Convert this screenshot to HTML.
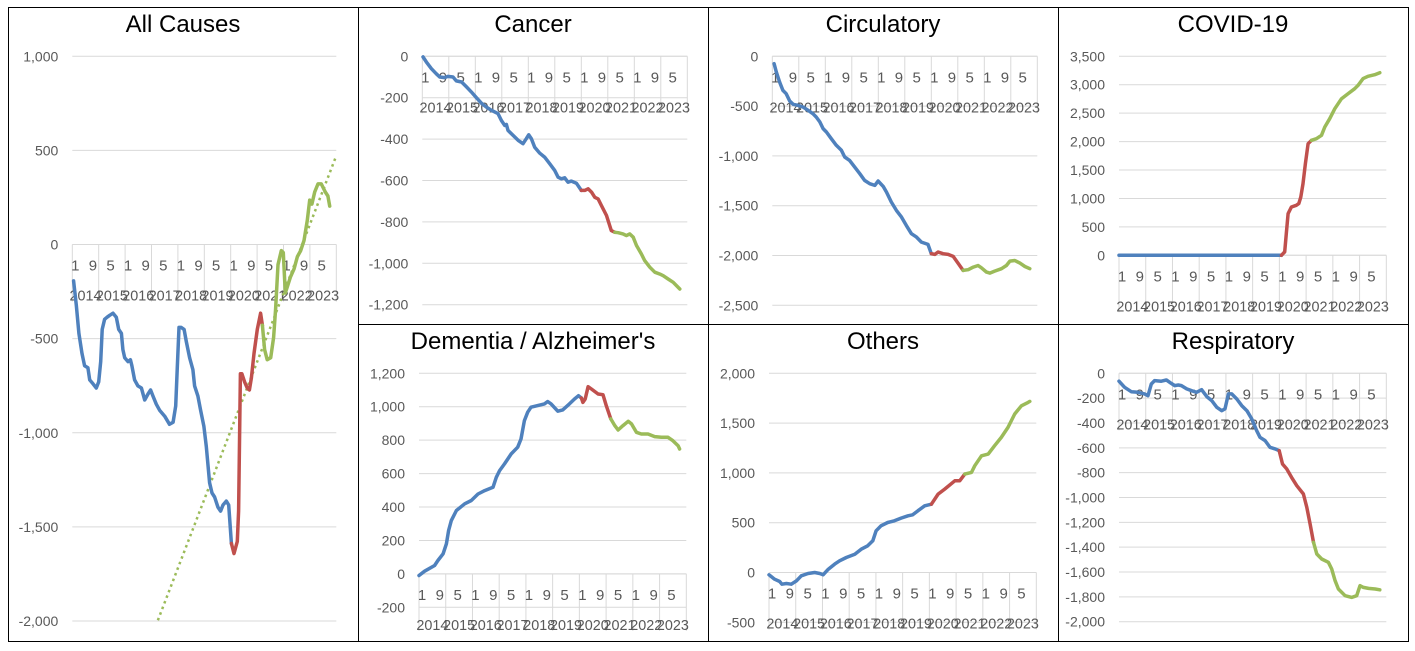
<!DOCTYPE html>
<html><head><meta charset="utf-8">
<style>
html,body{margin:0;padding:0;background:#fff;}
svg{display:block;font-family:"Liberation Sans",Arial,sans-serif;}
</style></head>
<body>
<svg id="chart" width="1415" height="651" viewBox="0 0 1415 651"></svg>
<script>
// ===== DATA =====
const monthTickLabels = ["1","9","5","1","9","5","1","9","5","1","9","5","1","9","5"];
const yearLabels = ["2014","2015","2016","2017","2018","2019","2020","2021","2022","2023"];
const phaseBreaks = [72.5, 86.8];

const allCausesMonths = [0.6,1.8,3.0,4.4,5.6,7.1,7.9,9.4,10.9,12.0,12.9,13.6,14.7,15.8,17.0,18.5,20.0,21.1,22.3,23.0,23.8,25.3,26.4,27.1,28.3,29.8,31.4,32.9,34.4,35.6,36.7,38.2,39.7,42.0,44.2,45.8,47.0,47.7,48.5,49.5,50.8,51.8,53.3,54.8,55.6,57.1,58.3,59.8,60.9,62.4,63.5,64.7,66.2,67.4,68.5,70.0,71.1,72.3,73.5,75.0,75.6,76.4,77.1,78.3,79.5,80.5,81.4,82.6,84.1,85.6,86.4,87.4,88.6,90.2,91.5,92.4,93.5,95.0,95.9,96.8,98.0,99.2,100.8,102.3,103.8,105.3,106.8,107.9,108.9,110.2,111.7,113.2,115.0,116.2,117.0];
const allCausesValues = [-193,-322,-472,-579,-644,-655,-719,-740,-762,-730,-622,-451,-397,-386,-376,-365,-386,-451,-472,-558,-601,-622,-612,-644,-719,-751,-762,-826,-794,-773,-805,-848,-880,-912,-955,-944,-858,-665,-440,-440,-451,-515,-601,-665,-751,-805,-880,-966,-1073,-1266,-1320,-1341,-1395,-1416,-1384,-1363,-1384,-1588,-1642,-1577,-1416,-687,-687,-730,-762,-773,-708,-579,-451,-365,-429,-558,-612,-601,-494,-343,-107,-32,-43,-258,-215,-172,-129,-64,-32,21,129,236,215,279,322,322,279,258,204];
const allCausesTrendMonths = [38.9, 120];
const allCausesTrendValues = [-1996, 472];

const cancerMonths = [0.3,1.8,4.1,6.3,7.9,10.1,11.6,13.9,15.4,17.8,20,22.2,24.5,26.7,29,31.3,34.3,35.8,37.3,38.1,38.8,41.1,43.4,45.6,47.1,48.2,49.4,50.9,53.2,55.4,57.7,60,61.5,63,64.5,66,67.5,69.8,72,73.6,75.1,76.6,78.1,79.6,81.1,83.4,85.6,87.2,88.7,90.9,92.4,93.9,95.5,97,99.2,100.7,103,105.3,107.6,109.1,111.3,113.6,116.6];
const cancerValues = [-3,-27,-60,-84,-100,-103,-97,-100,-119,-124,-148,-172,-200,-226,-245,-261,-277,-310,-334,-329,-358,-382,-406,-422,-398,-379,-398,-439,-468,-487,-519,-552,-584,-592,-587,-608,-603,-613,-648,-648,-640,-656,-681,-689,-721,-769,-842,-850,-852,-858,-866,-858,-874,-914,-955,-987,-1019,-1043,-1052,-1060,-1076,-1092,-1124];

const circMonths = [0.8,1.8,3.3,4.8,6.3,7.9,9.4,11.6,13.9,16.2,18.4,19.9,21.5,23,24.5,26.7,29,31.3,32.8,35,37.3,39.6,41.8,44.1,46.4,47.9,50.2,51.7,53.9,56.2,58.5,60.7,63,65.3,67.5,70.5,72,73.6,75.1,77.3,79.6,81.9,84.1,86.4,88.7,91,93.2,94.7,97,98.5,100.7,103.8,106,107.6,109.8,112.1,114.4,116.6];
const circValues = [-74,-157,-258,-342,-375,-449,-482,-492,-509,-542,-576,-609,-659,-726,-760,-827,-894,-944,-1011,-1045,-1112,-1179,-1246,-1279,-1296,-1252,-1306,-1363,-1463,-1547,-1614,-1698,-1781,-1815,-1865,-1889,-1982,-1989,-1965,-1982,-1989,-2009,-2076,-2150,-2143,-2116,-2100,-2123,-2167,-2177,-2157,-2133,-2100,-2056,-2050,-2076,-2110,-2133];

const covidMonths = [0,72.9,74.4,75.1,75.9,77.4,79.6,80.7,81.6,82.6,83.7,84.9,86.4,88.6,90.9,92.4,94.6,96.9,99.9,102.8,105.8,107.3,109.6,111.8,114.8,117.1];
const covidValues = [0,0,59,381,733,850,879,909,1026,1260,1612,1963,2022,2051,2110,2257,2403,2579,2755,2843,2931,2989,3107,3148,3177,3212];

const dementiaMonths = [0,2.5,7,8.5,10.8,12.3,13.3,14.5,16.8,20.5,23.5,26.5,29.5,33.2,34.7,36.2,38.4,41.4,44.3,45.8,47.3,48.8,50.3,53.3,56.3,57.8,59.3,62.3,64.5,67.5,69.8,71.6,72.9,73.6,74.6,75.9,77.4,80.4,82.6,84.1,86.1,87.9,89.4,91.6,93.9,95.4,97.6,99.8,102.8,105.8,108.8,111.8,114,116.3,117];
const dementiaValues = [-10,16,50,80,120,180,259,319,379,419,439,478,498,518,578,618,658,718,758,807,917,967,997,1007,1017,1031,1017,973,981,1017,1046,1066,1052,1026,1046,1120,1106,1076,1072,1006,927,887,861,887,913,897,847,837,837,821,817,817,797,767,747];

const othersMonths = [0,2.5,4.8,5.8,7.8,10,12.3,14.5,17.5,20.5,22.8,24.3,26.6,29.5,31.7,34.7,38.5,41.4,44.3,46.6,48.1,50.3,53.3,56.3,59.3,62.4,64.5,66.9,69.9,72.9,75.9,78.9,83.4,85.6,87.9,90.9,92.4,95.4,98.4,101.3,104.3,107.3,110.3,113.3,116.3,117.1];
const othersValues = [-23,-67,-90,-117,-110,-117,-84,-33,-10,0,-10,-23,33,84,117,151,184,234,268,318,419,469,502,519,546,569,579,620,670,686,787,837,921,921,988,1005,1072,1172,1189,1273,1356,1457,1591,1674,1708,1718];

const respMonths = [0,2.5,5.5,8.5,11.5,13,14.5,16,19,21.3,23.5,25,26.6,28,30.4,32.6,34.8,37.1,39.4,41.6,43.9,46.1,47.6,49.1,50.6,52.9,55.1,57.4,59.6,61.8,63.3,65.6,67.8,70.1,71.9,73.4,75.3,77.5,79.8,82.8,84.3,85.8,87.3,88.8,91,94,95.5,97,98.5,101.5,104.5,106.7,108.2,109.7,112,115,117.1];
const respValues = [-64,-113,-148,-153,-166,-180,-86,-59,-64,-54,-81,-99,-94,-99,-126,-140,-153,-132,-188,-220,-274,-301,-287,-166,-166,-207,-260,-301,-368,-462,-515,-542,-596,-609,-623,-730,-770,-838,-905,-972,-1079,-1213,-1361,-1455,-1495,-1522,-1576,-1670,-1737,-1791,-1804,-1791,-1710,-1724,-1732,-1737,-1743];

// ===== RENDER =====
const NS = "http://www.w3.org/2000/svg";
const svg = document.getElementById("chart");
const COLORS = ["#4f81bd","#c0504d","#9bbb59"];
function mk(tag, attrs, parent){
  const e = document.createElementNS(NS, tag);
  for (const k in attrs) e.setAttribute(k, attrs[k]);
  (parent||svg).appendChild(e);
  return e;
}
function fmt(v){ return v.toLocaleString("en-US"); }
function phaseOf(m){ return m < phaseBreaks[0] ? 0 : (m < phaseBreaks[1] ? 1 : 2); }

function panel(cfg){
  const g = mk("g", {});
  
  
  const xs = m => cfg.L + (cfg.R - cfg.L) * m / 120;
  const ys = v => cfg.yTop + (cfg.yBot - cfg.yTop) * (cfg.vTop - v) / (cfg.vTop - cfg.vBot);
  const t = mk("text", {x: cfg.tx, y: cfg.ty, "text-anchor":"middle", "font-size":24, fill:"#000"}, g);
  t.textContent = cfg.title;
  
  
  for (let v = cfg.vBot; v <= cfg.vTop + 0.001; v += cfg.step){
    const y = ys(v);
    const gl = mk("line", {x1: cfg.L, x2: cfg.R, y1: y, y2: y, stroke:"#d9d9d9", "stroke-width":1}, g);
    
    
    const lb = mk("text", {x: cfg.L - 14, y: y + 5, "text-anchor":"end", "font-size":14, fill:"#595959"}, g);
    lb.textContent = fmt(v);
    
    
  }
  const y0 = ys(0);
  const ax = mk("line", {x1: cfg.L, x2: cfg.R, y1: y0, y2: y0, stroke:"#d9d9d9", "stroke-width":1}, g);
  
  
  for (let i = 0; i <= yearLabels.length; i++){
    const x = xs(i * 12);
    const tl = mk("line", {x1: x, x2: x, y1: y0, y2: y0 + 57, stroke:"#d9d9d9", "stroke-width":1}, g);
    
    
  }
  monthTickLabels.forEach((s, i) => {
    const e = mk("text", {x: xs(i * 8) + 3, y: y0 + 26, "text-anchor":"middle", "font-size":15, fill:"#595959"}, g);
    e.textContent = s;
    
    
  });
  yearLabels.forEach((s, i) => {
    const e = mk("text", {x: xs(i * 12 + 6), y: y0 + 56, "text-anchor":"middle", "font-size":15, fill:"#595959", textLength: 32, lengthAdjust:"spacingAndGlyphs"}, g);
    e.textContent = s;
    
    
  });
  if (cfg.trendM){
    const tr = mk("line", {x1: xs(cfg.trendM[0]), y1: ys(cfg.trendV[0]), x2: xs(cfg.trendM[1]), y2: ys(cfg.trendV[1]), stroke:"#9bbb59", "stroke-width":2.5, "stroke-dasharray":"2.5 3.5"}, g);
    
    
  }
  // group consecutive segments by phase of segment midpoint
  const phaseNames = ["pre-covid-line","covid-line","post-covid-line"];
  let cur = null, curPh = -1;
  for (let i = 0; i + 1 < cfg.months.length; i++){
    const ph = phaseOf((cfg.months[i] + cfg.months[i+1]) / 2);
    const p0 = xs(cfg.months[i]).toFixed(1) + "," + ys(cfg.values[i]).toFixed(1);
    const p1 = xs(cfg.months[i+1]).toFixed(1) + "," + ys(cfg.values[i+1]).toFixed(1);
    if (ph !== curPh){
      if (cur) flush(cur, curPh);
      cur = [p0]; curPh = ph;
    }
    cur.push(p1);
  }
  if (cur) flush(cur, curPh);
  function flush(pts, p){
    const pl = mk("polyline", {points: pts.join(" "), fill:"none", stroke: COLORS[p], "stroke-width":3.5, "stroke-linejoin":"round", "stroke-linecap":"round"}, g);
    
    
  }
}

panel({name:"all-causes", title:"All Causes", tx:183, ty:32, L:72.3, R:336.3, vTop:1000, vBot:-2000, yTop:56.3, yBot:621, step:500, months:allCausesMonths, values:allCausesValues, trendM:allCausesTrendMonths, trendV:allCausesTrendValues});
panel({name:"cancer", title:"Cancer", tx:533, ty:32, L:422.3, R:687.3, vTop:0, vBot:-1200, yTop:56.3, yBot:304.7, step:200, months:cancerMonths, values:cancerValues});
panel({name:"circulatory", title:"Circulatory", tx:883, ty:32, L:772.3, R:1037.3, vTop:0, vBot:-2500, yTop:56.3, yBot:305.3, step:500, months:circMonths, values:circValues});
panel({name:"covid-19", title:"COVID-19", tx:1233, ty:32, L:1119, R:1386.3, vTop:3500, vBot:0, yTop:56.3, yBot:255.3, step:500, months:covidMonths, values:covidValues});
panel({name:"dementia", title:"Dementia / Alzheimer's", tx:533, ty:349, L:419, R:686.3, vTop:1200, vBot:-200, yTop:373.3, yBot:607.3, step:200, months:dementiaMonths, values:dementiaValues});
panel({name:"others", title:"Others", tx:883, ty:349, L:769, R:1036.3, vTop:2000, vBot:-500, yTop:373.3, yBot:622.3, step:500, months:othersMonths, values:othersValues});
panel({name:"respiratory", title:"Respiratory", tx:1233, ty:349, L:1119, R:1386.3, vTop:0, vBot:-2000, yTop:373.3, yBot:621.7, step:200, months:respMonths, values:respValues});

const frame = mk("g", {stroke:"#000", "stroke-width":1, fill:"none"});


mk("rect", {x:8.5, y:7.5, width:1400, height:634}, frame);
[358.5, 708.5, 1058.5].forEach(x => mk("line", {x1:x, x2:x, y1:7.5, y2:641.5}, frame));
mk("line", {x1:358.5, x2:1408.5, y1:324.5, y2:324.5}, frame);
</script>
</body></html>
